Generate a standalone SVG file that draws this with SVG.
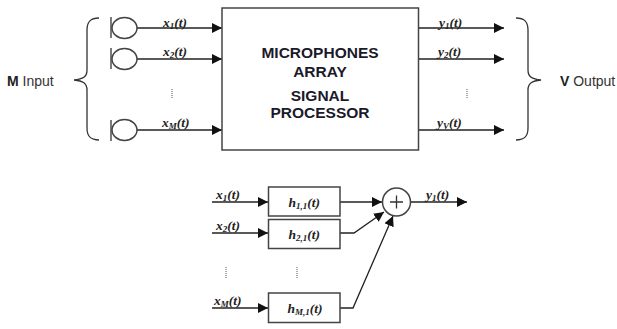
<svg xmlns="http://www.w3.org/2000/svg" width="617" height="329" viewBox="0 0 617 329">
<style>
.l{fill:none;stroke:#333;stroke-width:1.3}
.a{fill:none;stroke:#222;stroke-width:1.3;marker-end:url(#ah)}
.b{fill:#fff;stroke:#444;stroke-width:1.5}
.s{font-family:"Liberation Serif",serif;font-style:italic;font-weight:bold;font-size:13.5px;fill:#222}
.s tspan{font-size:9px}
.s tspan.p{font-size:13.5px}
.t{font-family:"Liberation Sans",sans-serif;font-weight:bold;font-size:15.5px;fill:#1a1a2a;text-anchor:middle}
.n{font-family:"Liberation Sans",sans-serif;font-size:14px;fill:#333}
.n tspan{font-weight:bold;fill:#222}
.d{fill:none;stroke:#555;stroke-width:1;stroke-dasharray:1 1}
</style>
<defs>
<marker id="ah" markerUnits="userSpaceOnUse" markerWidth="11" markerHeight="11" refX="10" refY="5" orient="auto"><path d="M0 0L10 5L0 10Z" fill="#111"/></marker>
</defs>
<g id="connectors">
<path class="a" d="M136 28H222"/>
<path class="a" d="M136 59H222"/>
<path class="a" d="M136 130H222"/>
<path class="a" d="M418 28H504"/>
<path class="a" d="M418 59H504"/>
<path class="a" d="M418 130H504"/>
<path class="a" d="M212 202H268"/>
<path class="a" d="M212 233H268"/>
<path class="a" d="M212 308H268"/>
<path class="a" d="M340 202H382"/>
<path class="a" d="M340 233H354L384 212"/>
<path class="a" d="M340 308H353L393 216"/>
<path class="a" d="M410 202H467"/>
</g>
<g id="input-brace"><path class="l" d="M99 18C90 18 87 22 87 30V70C87 77 83 79 74 80C83 81 87 83 87 90V128C87 136 90 140 99 140"/></g>
<g id="output-brace"><path class="l" d="M516 18C525 18 528 22 528 30V70C528 77 532 79 541 80C532 81 528 83 528 90V128C528 136 525 140 516 140"/></g>
<g id="m-input"><text class="n" x="7" y="86"><tspan>M</tspan> Input</text></g>
<g id="v-output"><text class="n" x="560" y="86"><tspan>V</tspan> Output</text></g>
<g id="mic1"><path class="l" d="M111 17V38"/><ellipse class="b" cx="124.500" cy="28" rx="12.500" ry="10.500"/></g>
<g id="mic2"><path class="l" d="M111 48V69"/><ellipse class="b" cx="124.500" cy="59" rx="12.500" ry="10.500"/></g>
<g id="micM"><path class="l" d="M111 120V141"/><ellipse class="b" cx="124.500" cy="130" rx="12.500" ry="10.500"/></g>
<g id="processor">
<rect class="b" x="222" y="8" width="196.500" height="142"/>
<text class="t" x="320" y="58">MICROPHONES</text>
<text class="t" x="320" y="76.500">ARRAY</text>
<text class="t" x="320" y="101">SIGNAL</text>
<text class="t" x="320" y="118">PROCESSOR</text>
</g>
<g id="labels">
<text class="s" x="163" y="27">x<tspan dy="2">1</tspan><tspan class="p" dy="-2">(t)</tspan></text>
<text class="s" x="163" y="56">x<tspan dy="2">2</tspan><tspan class="p" dy="-2">(t)</tspan></text>
<text class="s" x="162" y="127">x<tspan dy="2">M</tspan><tspan class="p" dy="-2">(t)</tspan></text>
<text class="s" x="439" y="27">y<tspan dy="2">1</tspan><tspan class="p" dy="-2">(t)</tspan></text>
<text class="s" x="438" y="56">y<tspan dy="2">2</tspan><tspan class="p" dy="-2">(t)</tspan></text>
<text class="s" x="437" y="127">y<tspan dy="2">V</tspan><tspan class="p" dy="-2">(t)</tspan></text>
<text class="s" x="216" y="199">x<tspan dy="2">1</tspan><tspan class="p" dy="-2">(t)</tspan></text>
<text class="s" x="216" y="230">x<tspan dy="2">2</tspan><tspan class="p" dy="-2">(t)</tspan></text>
<text class="s" x="214" y="305">x<tspan dy="2">M</tspan><tspan class="p" dy="-2">(t)</tspan></text>
<text class="s" x="426" y="199">y<tspan dy="2">1</tspan><tspan class="p" dy="-2">(t)</tspan></text>
</g>
<g id="dots">
<path class="d" d="M172 89V98"/>
<path class="d" d="M467 89V98"/>
<path class="d" d="M226 267V278"/>
<path class="d" d="M297 267V278"/>
</g>
<g id="h11"><rect class="b" x="268.500" y="187" width="71.500" height="29"/><text class="s" x="288.500" y="207">h<tspan dy="2">1,1</tspan><tspan class="p" dy="-2">(t)</tspan></text></g>
<g id="h21"><rect class="b" x="268.500" y="219.500" width="71.500" height="29"/><text class="s" x="288.500" y="239">h<tspan dy="2">2,1</tspan><tspan class="p" dy="-2">(t)</tspan></text></g>
<g id="hM1"><rect class="b" x="268.500" y="293" width="71.500" height="29.500"/><text class="s" x="287.500" y="313">h<tspan dy="2">M,1</tspan><tspan class="p" dy="-2">(t)</tspan></text></g>
<g id="sum"><circle class="b" cx="396.500" cy="202" r="14"/><path class="l" d="M390 202H403M396.500 195.500V208.500"/></g>
</svg>
